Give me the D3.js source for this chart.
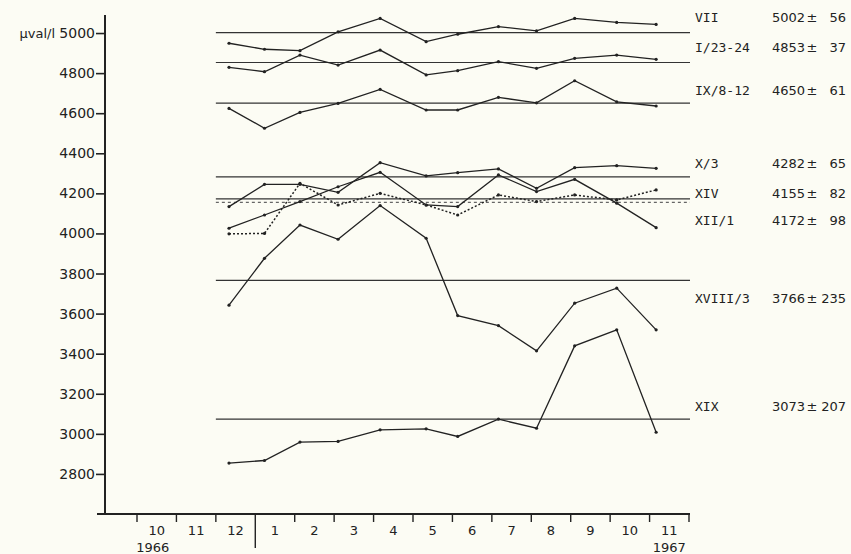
<!DOCTYPE html>
<html>
<head>
<meta charset="utf-8">
<script src="https://cdn.jsdelivr.net/npm/d3@7"></script>
<style>
  html, body { margin: 0; padding: 0; background: #fcfcf4; }
  svg { display: block; }
  text { fill: #222; }
</style>
</head>
<body>
<script>
// month labels on the time axis (Oct 1966 .. Nov 1967)
var monthLabels = ['10', '11', '12', '1', '2', '3', '4', '5', '6', '7', '8', '9', '10', '11'];
var sampleDates = ['1966-12-11', '1967-01-08', '1967-02-05', '1967-03-04', '1967-04-06', '1967-05-11',
                   '1967-06-05', '1967-07-06', '1967-08-05', '1967-09-04', '1967-10-06', '1967-11-06'];

var seriesNames = ['VII', 'I/23-24', 'IX/8-12', 'X/3', 'XIV', 'XII/1', 'XVIII/3', 'XIX'];
var meanValues  = [5002, 4853, 4650, 4282, 4155, 4172, 3766, 3073];
var sdValues    = [56, 37, 61, 65, 82, 98, 235, 207];

// µval/l per sampling date
var vii     = [4949, 4919, 4912, 5006, 5073, 4957, 4994, 5032, 5011, 5073, 5053, 5043];
var i2324   = [4829, 4807, 4890, 4840, 4915, 4791, 4812, 4857, 4824, 4874, 4890, 4869];
var ix812   = [4624, 4525, 4604, 4649, 4719, 4616, 4616, 4679, 4652, 4762, 4657, 4636];
var x3      = [4134, 4245, 4245, 4205, 4353, 4287, 4303, 4322, 4225, 4328, 4338, 4325];
var xiv     = [3998, 4000, 4250, 4142, 4200, 4142, 4092, 4192, 4159, 4192, 4167, 4217];
var xii1    = [4026, 4092, 4159, 4233, 4305, 4142, 4134, 4292, 4209, 4270, 4151, 4029];
var xviii3  = [3642, 3876, 4042, 3971, 4139, 3976, 3590, 3540, 3414, 3652, 3727, 3519];
var xix     = [2854, 2867, 2959, 2962, 3020, 3025, 2987, 3073, 3028, 3439, 3519, 3008];
var seriesValues = [vii, i2324, ix812, x3, xiv, xii1, xviii3, xix];

var yTicks = [2800, 3000, 3200, 3400, 3600, 3800, 4000, 4200, 4400, 4600, 4800, 5000];

// layout only
var dotted = [false, false, false, false, true, false, false, false];
var labelDy = [-15, -15, -13, -13, -9, 21, 18, -13];

var width = 851, height = 554;
var svg = d3.select('body').append('svg').attr('width', width).attr('height', height);

// months since 1 Oct 1966
function monthPos(s) {
    var p = s.split('-').map(Number);
    return (p[0] - 1966) * 12 + (p[1] - 10) + (p[2] - 1) / 30;
}

var x = d3.scaleLinear().domain([0, 14]).range([137, 689]);
var y = d3.scaleLinear().domain([2600, 5090]).range([514, 15]);
var axisX = 105;

// y axis
var yAxis = d3.axisLeft(y).tickValues(yTicks).tickSize(9).tickPadding(1).tickFormat(d3.format('d'));
var gy = svg.append('g').attr('transform', 'translate(' + axisX + ',0)').call(yAxis);
gy.select('.domain').remove();
gy.selectAll('.tick line').attr('stroke', '#222').attr('stroke-width', 1.6);
gy.selectAll('.tick text').attr('font-family', 'DejaVu Sans').attr('font-size', 14).attr('fill', '#222');
svg.append('line').attr('x1', axisX).attr('x2', axisX).attr('y1', y(5090)).attr('y2', y(2600) + 1)
    .attr('stroke', '#222').attr('stroke-width', 2);
svg.append('text').attr('x', 55).attr('y', y(5000)).attr('dy', '0.35em').attr('text-anchor', 'end')
    .attr('font-family', 'DejaVu Sans').attr('font-size', 13).text('µval/l');

// x axis
var gx = svg.append('g');
gx.append('line').attr('x1', axisX - 8).attr('x2', x(14) + 1).attr('y1', y(2600)).attr('y2', y(2600))
    .attr('stroke', '#222').attr('stroke-width', 2);
gx.selectAll('line.tick').data(d3.range(0, 15)).enter().append('line')
    .attr('class', 'tick')
    .attr('x1', function(d) { return x(d); })
    .attr('x2', function(d) { return x(d); })
    .attr('y1', y(2600))
    .attr('y2', function(d) { return d === 3 ? y(2600) + 34 : y(2600) + 8; })
    .attr('stroke', '#222').attr('stroke-width', 1.4);
gx.selectAll('text.month').data(monthLabels).enter().append('text')
    .attr('class', 'month')
    .attr('x', function(d, i) { return x(i + 0.5); })
    .attr('y', y(2600) + 21)
    .attr('text-anchor', 'middle')
    .attr('font-family', 'DejaVu Sans').attr('font-size', 13)
    .text(function(d) { return d; });
gx.append('text').attr('x', x(0.4)).attr('y', y(2600) + 38).attr('text-anchor', 'middle')
    .attr('font-family', 'DejaVu Sans').attr('font-size', 13).text('1966');
gx.append('text').attr('x', x(13.5)).attr('y', y(2600) + 38).attr('text-anchor', 'middle')
    .attr('font-family', 'DejaVu Sans').attr('font-size', 13).text('1967');

// mean lines
svg.selectAll('line.mean').data(meanValues).enter().append('line')
    .attr('class', 'mean')
    .attr('x1', x(2)).attr('x2', x(14) + 1)
    .attr('y1', function(d) { return y(d); })
    .attr('y2', function(d) { return y(d); })
    .attr('stroke', function(d, i) { return dotted[i] ? '#666' : '#333'; })
    .attr('stroke-width', 1.2)
    .attr('stroke-dasharray', function(d, i) { return dotted[i] ? '3,3' : null; });

// series
var line = d3.line()
    .x(function(d, i) { return x(monthPos(sampleDates[i])); })
    .y(function(d) { return y(d); });

seriesValues.forEach(function(vals, s) {
    var g = svg.append('g').attr('class', 'series' + s);
    g.append('path')
        .attr('d', line(vals))
        .attr('fill', 'none')
        .attr('stroke', '#222')
        .attr('stroke-width', dotted[s] ? 1.5 : 1.3)
        .attr('stroke-dasharray', dotted[s] ? '2,2' : null);
    g.selectAll('circle').data(vals).enter().append('circle')
        .attr('cx', function(d, i) { return x(monthPos(sampleDates[i])); })
        .attr('cy', function(d) { return y(d); })
        .attr('r', 1.6)
        .attr('fill', '#222');
});

// right-hand labels
var lab = svg.selectAll('g.lab').data(seriesNames).enter().append('g')
    .attr('class', 'lab')
    .attr('transform', function(d, i) { return 'translate(0,' + (y(meanValues[i]) + labelDy[i]) + ')'; });
lab.append('text').attr('x', 695).attr('dy', '0.35em')
    .attr('font-family', 'DejaVu Sans Mono').attr('font-size', 13)
    .text(function(d) { return d; });
lab.append('text').attr('x', 772).attr('dy', '0.35em')
    .attr('font-family', 'DejaVu Sans').attr('font-size', 13)
    .text(function(d, i) { return meanValues[i]; });
lab.append('text').attr('x', 812).attr('dy', '0.35em').attr('text-anchor', 'middle')
    .attr('font-family', 'DejaVu Sans').attr('font-size', 13)
    .text('±');
lab.append('text').attr('x', 846).attr('dy', '0.35em').attr('text-anchor', 'end')
    .attr('font-family', 'DejaVu Sans').attr('font-size', 13)
    .text(function(d, i) { return sdValues[i]; });
</script>
</body>
</html>
